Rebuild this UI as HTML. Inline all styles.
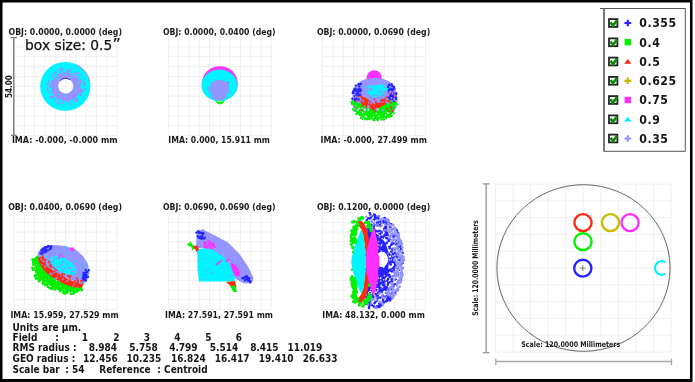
<!DOCTYPE html>
<html><head><meta charset="utf-8"><title>Spot Diagram</title><style>html,body{margin:0;padding:0;background:#fff;width:695px;height:382px;overflow:hidden}svg{display:block}</style></head><body>
<svg width="695" height="382" viewBox="0 0 695 382">
<rect width="695" height="382" fill="#fff"/>
<path d="M14.0 37.0V135.5M14.0 37.0H117.0M24.3 37.0V135.5M14.0 46.9H117.0M34.6 37.0V135.5M14.0 56.7H117.0M44.9 37.0V135.5M14.0 66.5H117.0M55.2 37.0V135.5M14.0 76.4H117.0M65.5 37.0V135.5M14.0 86.2H117.0M75.8 37.0V135.5M14.0 96.1H117.0M86.1 37.0V135.5M14.0 106.0H117.0M96.4 37.0V135.5M14.0 115.8H117.0M106.7 37.0V135.5M14.0 125.7H117.0M117.0 37.0V135.5M14.0 135.5H117.0" stroke="#f0f0f0" stroke-width="1" fill="none"/>
<path d="M168.3 37.0V135.5M168.3 37.0H271.3M178.6 37.0V135.5M168.3 46.9H271.3M188.9 37.0V135.5M168.3 56.7H271.3M199.2 37.0V135.5M168.3 66.5H271.3M209.5 37.0V135.5M168.3 76.4H271.3M219.8 37.0V135.5M168.3 86.2H271.3M230.1 37.0V135.5M168.3 96.1H271.3M240.4 37.0V135.5M168.3 106.0H271.3M250.7 37.0V135.5M168.3 115.8H271.3M261.0 37.0V135.5M168.3 125.7H271.3M271.3 37.0V135.5M168.3 135.5H271.3" stroke="#f0f0f0" stroke-width="1" fill="none"/>
<path d="M322.6 37.0V135.5M322.6 37.0H425.6M332.9 37.0V135.5M322.6 46.9H425.6M343.2 37.0V135.5M322.6 56.7H425.6M353.5 37.0V135.5M322.6 66.5H425.6M363.8 37.0V135.5M322.6 76.4H425.6M374.1 37.0V135.5M322.6 86.2H425.6M384.4 37.0V135.5M322.6 96.1H425.6M394.7 37.0V135.5M322.6 106.0H425.6M405.0 37.0V135.5M322.6 115.8H425.6M415.3 37.0V135.5M322.6 125.7H425.6M425.6 37.0V135.5M322.6 135.5H425.6" stroke="#f0f0f0" stroke-width="1" fill="none"/>
<path d="M14.0 212.7V309.4M14.0 212.7H117.0M24.3 212.7V309.4M14.0 222.4H117.0M34.6 212.7V309.4M14.0 232.0H117.0M44.9 212.7V309.4M14.0 241.7H117.0M55.2 212.7V309.4M14.0 251.4H117.0M65.5 212.7V309.4M14.0 261.0H117.0M75.8 212.7V309.4M14.0 270.7H117.0M86.1 212.7V309.4M14.0 280.4H117.0M96.4 212.7V309.4M14.0 290.1H117.0M106.7 212.7V309.4M14.0 299.7H117.0M117.0 212.7V309.4M14.0 309.4H117.0" stroke="#f0f0f0" stroke-width="1" fill="none"/>
<path d="M168.3 212.7V309.4M168.3 212.7H271.3M178.6 212.7V309.4M168.3 222.4H271.3M188.9 212.7V309.4M168.3 232.0H271.3M199.2 212.7V309.4M168.3 241.7H271.3M209.5 212.7V309.4M168.3 251.4H271.3M219.8 212.7V309.4M168.3 261.0H271.3M230.1 212.7V309.4M168.3 270.7H271.3M240.4 212.7V309.4M168.3 280.4H271.3M250.7 212.7V309.4M168.3 290.1H271.3M261.0 212.7V309.4M168.3 299.7H271.3M271.3 212.7V309.4M168.3 309.4H271.3" stroke="#f0f0f0" stroke-width="1" fill="none"/>
<path d="M322.6 212.7V309.4M322.6 212.7H425.6M332.9 212.7V309.4M322.6 222.4H425.6M343.2 212.7V309.4M322.6 232.0H425.6M353.5 212.7V309.4M322.6 241.7H425.6M363.8 212.7V309.4M322.6 251.4H425.6M374.1 212.7V309.4M322.6 261.0H425.6M384.4 212.7V309.4M322.6 270.7H425.6M394.7 212.7V309.4M322.6 280.4H425.6M405.0 212.7V309.4M322.6 290.1H425.6M415.3 212.7V309.4M322.6 299.7H425.6M425.6 212.7V309.4M322.6 309.4H425.6" stroke="#f0f0f0" stroke-width="1" fill="none"/>
<path d="M495.4 184.0V352.0M495.4 184.0H671.0M513.0 184.0V352.0M495.4 200.8H671.0M530.5 184.0V352.0M495.4 217.6H671.0M548.1 184.0V352.0M495.4 234.4H671.0M565.6 184.0V352.0M495.4 251.2H671.0M583.2 184.0V352.0M495.4 268.0H671.0M600.8 184.0V352.0M495.4 284.8H671.0M618.3 184.0V352.0M495.4 301.6H671.0M635.9 184.0V352.0M495.4 318.4H671.0M653.4 184.0V352.0M495.4 335.2H671.0M671.0 184.0V352.0M495.4 352.0H671.0" stroke="#f0f0f0" stroke-width="1" fill="none"/>
<text x="8.5" y="35.3" font-family='"DejaVu Sans", sans-serif' font-size="8.4" font-weight="bold" text-anchor="start" font-stretch="condensed" textLength="113.5" lengthAdjust="spacingAndGlyphs" fill="#1a1a1a">OBJ: 0.0000, 0.0000 (deg)</text>
<text x="11.9" y="143.4" font-family='"DejaVu Sans", sans-serif' font-size="8.4" font-weight="bold" text-anchor="start" font-stretch="condensed" textLength="105.7" lengthAdjust="spacingAndGlyphs" fill="#1a1a1a">IMA: -0.000, -0.000 mm</text>
<text x="163" y="35.3" font-family='"DejaVu Sans", sans-serif' font-size="8.4" font-weight="bold" text-anchor="start" font-stretch="condensed" textLength="112.6" lengthAdjust="spacingAndGlyphs" fill="#1a1a1a">OBJ: 0.0000, 0.0400 (deg)</text>
<text x="168.3" y="143.4" font-family='"DejaVu Sans", sans-serif' font-size="8.4" font-weight="bold" text-anchor="start" font-stretch="condensed" textLength="101.5" lengthAdjust="spacingAndGlyphs" fill="#1a1a1a">IMA: 0.000, 15.911 mm</text>
<text x="316.9" y="35.3" font-family='"DejaVu Sans", sans-serif' font-size="8.4" font-weight="bold" text-anchor="start" font-stretch="condensed" textLength="113.3" lengthAdjust="spacingAndGlyphs" fill="#1a1a1a">OBJ: 0.0000, 0.0690 (deg)</text>
<text x="320.5" y="143.4" font-family='"DejaVu Sans", sans-serif' font-size="8.4" font-weight="bold" text-anchor="start" font-stretch="condensed" textLength="106.5" lengthAdjust="spacingAndGlyphs" fill="#1a1a1a">IMA: -0.000, 27.499 mm</text>
<text x="8.2" y="210.0" font-family='"DejaVu Sans", sans-serif' font-size="8.4" font-weight="bold" text-anchor="start" font-stretch="condensed" textLength="113.8" lengthAdjust="spacingAndGlyphs" fill="#1a1a1a">OBJ: 0.0400, 0.0690 (deg)</text>
<text x="10.4" y="318.0" font-family='"DejaVu Sans", sans-serif' font-size="8.4" font-weight="bold" text-anchor="start" font-stretch="condensed" textLength="108.3" lengthAdjust="spacingAndGlyphs" fill="#1a1a1a">IMA: 15.959, 27.529 mm</text>
<text x="163" y="210.0" font-family='"DejaVu Sans", sans-serif' font-size="8.4" font-weight="bold" text-anchor="start" font-stretch="condensed" textLength="112.6" lengthAdjust="spacingAndGlyphs" fill="#1a1a1a">OBJ: 0.0690, 0.0690 (deg)</text>
<text x="165.1" y="318.0" font-family='"DejaVu Sans", sans-serif' font-size="8.4" font-weight="bold" text-anchor="start" font-stretch="condensed" textLength="107.9" lengthAdjust="spacingAndGlyphs" fill="#1a1a1a">IMA: 27.591, 27.591 mm</text>
<text x="316.9" y="210.0" font-family='"DejaVu Sans", sans-serif' font-size="8.4" font-weight="bold" text-anchor="start" font-stretch="condensed" textLength="113.3" lengthAdjust="spacingAndGlyphs" fill="#1a1a1a">OBJ: 0.1200, 0.0000 (deg)</text>
<text x="322.3" y="318.0" font-family='"DejaVu Sans", sans-serif' font-size="8.4" font-weight="bold" text-anchor="start" font-stretch="condensed" textLength="102.5" lengthAdjust="spacingAndGlyphs" fill="#1a1a1a">IMA: 48.132, 0.000 mm</text>
<path d="M13.8 37.6V135.4M10.6 37.6H17M11 135.4H16.6" stroke="#7a7a7a" stroke-width="1.4" fill="none"/>
<text x="12.2" y="86.5" font-family='"DejaVu Sans", sans-serif' font-size="8.3" font-weight="bold" text-anchor="middle" font-stretch="condensed" textLength="22.8" lengthAdjust="spacingAndGlyphs" fill="#1a1a1a" transform="rotate(-90 12.2 86.5)">54.00</text>
<text x="25.1" y="49.6" font-family='"DejaVu Sans", sans-serif' font-size="14.8" font-weight="normal" text-anchor="start" textLength="87.2" lengthAdjust="spacingAndGlyphs" fill="#111" stroke="#111" stroke-width="0.25">box size: 0.5</text>
<text x="112.4" y="50.4" font-family='"DejaVu Sans", sans-serif' font-size="16" font-weight="normal" text-anchor="start" fill="#111" stroke="#111" stroke-width="0.2">”</text>
<ellipse cx="65.3" cy="86.4" rx="25.1" ry="24.4" fill="#00f4ff"/>
<path d="M76 64.5 A25.1 24.4 0 0 1 89.8 81" stroke="#ff30ff" stroke-width="0.9" fill="none" opacity="0.7"/>
<ellipse cx="66" cy="86.8" rx="14.6" ry="14.4" fill="#9494ff"/>
<path d="M84.7 85.0h0M52.1 87.0h0M71.7 99.1h0M52.4 75.4h0M63.4 101.2h0M81.0 95.4h0M57.9 74.9h0M81.2 81.6h0M84.1 85.2h0M78.3 76.6h0M52.4 96.5h0M49.8 92.7h0M49.1 83.1h0M53.4 76.6h0M57.4 103.0h0M53.3 82.0h0M81.6 92.6h0M53.4 76.1h0M78.0 79.1h0M48.0 90.1h0M69.3 102.3h0M55.0 73.2h0M82.8 91.0h0M62.5 69.5h0M54.5 95.3h0M55.3 100.4h0M51.7 96.0h0M68.6 101.7h0M51.8 80.9h0M69.2 70.7h0M59.9 103.3h0M47.3 88.5h0M76.4 95.3h0M82.0 89.6h0M63.4 101.0h0M71.0 104.6h0M63.4 103.3h0M52.7 83.5h0M82.7 81.5h0M50.0 86.3h0M56.2 72.3h0M57.9 101.1h0M57.6 99.0h0M80.5 75.2h0M74.1 73.6h0M64.9 72.7h0M75.4 72.7h0M49.7 84.5h0M71.5 104.1h0M72.7 73.8h0M75.8 100.2h0M81.7 80.0h0M47.6 84.0h0M58.7 98.9h0M81.0 94.6h0M81.1 89.1h0M69.2 73.6h0M61.6 99.4h0M49.6 83.6h0M52.4 91.6h0M52.5 74.8h0M49.4 87.0h0M55.0 73.5h0M67.3 71.9h0M53.0 92.1h0M81.5 91.3h0M76.6 99.9h0M54.5 96.2h0M80.6 83.1h0M69.0 71.3h0M74.8 101.3h0M52.0 84.5h0M75.0 102.0h0M76.8 98.5h0M79.8 82.4h0M74.6 98.0h0M74.9 97.8h0M60.5 69.2h0M51.0 85.3h0M51.4 86.3h0M50.9 97.4h0M61.2 103.6h0M70.6 69.9h0M67.2 70.3h0M76.3 75.3h0M78.5 91.9h0M77.1 73.2h0M71.4 69.4h0M53.3 79.8h0M76.8 101.1h0M79.6 91.8h0M77.8 74.2h0M79.6 80.9h0M53.4 93.5h0M56.4 71.1h0M60.1 70.0h0M84.2 83.8h0M79.3 78.1h0M52.6 89.2h0M80.8 89.2h0M51.8 97.6h0M50.3 97.1h0M53.7 97.9h0M84.3 82.7h0M80.4 93.7h0M79.3 83.1h0M62.5 71.3h0M60.5 72.2h0M49.1 92.9h0M78.1 72.7h0" stroke="#9494ff" stroke-width="1.8" stroke-linecap="round"/>
<path d="M70.2 74.6h0M65.2 74.5h0M72.9 75.2h0M60.3 99.3h0M75.4 91.1h0M58.2 76.2h0M55.7 88.0h0M78.7 82.9h0M57.7 78.4h0M64.6 95.8h0M59.8 94.5h0M71.1 77.5h0M57.1 79.5h0M76.2 79.2h0" stroke="#00f4ff" stroke-width="1.4" stroke-linecap="round"/>
<path d="M85.6 89.2h0M75.8 79.3h0M73.8 95.5h0M51.9 82.3h0M80.8 90.5h0M61.9 68.1h0M84.5 83.4h0M77.7 100.3h0M48.7 81.2h0M66.4 98.9h0" stroke="#ff30ff" stroke-width="1.2" stroke-linecap="round"/>
<ellipse cx="65.7" cy="86" rx="7.6" ry="7.5" fill="#fff"/>
<clipPath id="h1"><ellipse cx="65.7" cy="86" rx="7.6" ry="7.5"/></clipPath>
<g clip-path="url(#h1)"><path d="M14.0 37.0V135.5M14.0 37.0H117.0M24.3 37.0V135.5M14.0 46.9H117.0M34.6 37.0V135.5M14.0 56.7H117.0M44.9 37.0V135.5M14.0 66.5H117.0M55.2 37.0V135.5M14.0 76.4H117.0M65.5 37.0V135.5M14.0 86.2H117.0M75.8 37.0V135.5M14.0 96.1H117.0M86.1 37.0V135.5M14.0 106.0H117.0M96.4 37.0V135.5M14.0 115.8H117.0M106.7 37.0V135.5M14.0 125.7H117.0M117.0 37.0V135.5M14.0 135.5H117.0" stroke="#f0f0f0" stroke-width="1" fill="none"/></g>
<path d="M60.5 80.5 A7.6 7.5 0 0 1 70 79.8" stroke="#2a2ad8" stroke-width="1" fill="none"/>
<ellipse cx="219.8" cy="83.6" rx="18" ry="17.3" fill="#ff30ff"/>
<ellipse cx="219.5" cy="85.4" rx="18" ry="15.8" fill="#00f4ff"/>
<path d="M211 84 Q213 80 219 80.5 Q226 80 228.5 85 Q229 92 226 96 Q224 100.5 219 100.5 Q213 100 212 95 Q209.5 90 211 84Z" fill="#9494ff"/>
<path d="M229.8 93.1h0M223.8 81.5h0M229.5 92.8h0M211.0 89.1h0M209.3 86.8h0M222.1 80.9h0M227.6 84.5h0M208.7 88.5h0M211.7 96.9h0M208.7 91.1h0M212.3 84.4h0M219.2 81.8h0M219.2 80.8h0M211.1 93.7h0M226.8 84.8h0M211.7 84.6h0M224.9 98.1h0M211.9 84.4h0M220.0 81.0h0M228.5 90.5h0M223.2 82.6h0M212.9 98.4h0M215.9 82.1h0M227.9 96.6h0M211.9 83.1h0M211.5 85.7h0M210.5 91.4h0M226.5 83.5h0M215.8 80.3h0M228.0 96.3h0" stroke="#9494ff" stroke-width="1.8" stroke-linecap="round"/>
<path d="M214.5 100.2 Q220 103.5 225.5 100.2 Q223 104.2 220 104.2 Q217 104.2 214.5 100.2Z" fill="#00f000"/>
<circle cx="228" cy="82.5" r="0.9" fill="#ff30ff"/>
<ellipse cx="374.2" cy="78.2" rx="7.7" ry="8" fill="#ff30ff"/>
<ellipse cx="376" cy="80" rx="4" ry="2" fill="#00f4ff"/>
<clipPath id="c3"><polygon points="396.8,98.8 396.7,101.7 396.5,103.9 396.2,105.8 395.7,107.5 395.1,109.1 394.4,110.6 393.5,111.9 392.5,113.2 391.4,114.3 390.2,115.4 388.8,116.3 387.4,117.1 385.7,117.7 384.0,118.3 382.1,118.7 380.1,119.1 377.8,119.2 374.6,119.3 371.4,119.2 369.1,119.1 367.1,118.7 365.2,118.3 363.5,117.7 361.8,117.1 360.4,116.3 359.0,115.4 357.8,114.3 356.7,113.2 355.7,111.9 354.8,110.6 354.1,109.1 353.5,107.5 353.0,105.8 352.7,103.9 352.5,101.7 352.4,98.8 352.5,95.9 352.7,93.7 353.0,91.8 353.5,90.1 354.1,88.5 354.8,87.0 355.7,85.7 356.7,84.4 357.8,83.3 359.0,82.2 360.4,81.3 361.8,80.5 363.5,79.9 365.2,79.3 367.1,78.9 369.1,78.5 371.4,78.4 374.6,78.3 377.8,78.4 380.1,78.5 382.1,78.9 384.0,79.3 385.7,79.9 387.4,80.5 388.8,81.3 390.2,82.2 391.4,83.3 392.5,84.4 393.5,85.7 394.4,87.0 395.1,88.5 395.7,90.1 396.2,91.8 396.5,93.7 396.7,95.9"/></clipPath>
<g clip-path="url(#c3)">
<rect x="350" y="76" width="50" height="45" fill="#9494ff"/>
<path d="M350 100 L360 103 L374 108 L388 102 L400 99 V121 H350Z" fill="#00f000"/>
<path d="M357 92 L366 98 L374 104 L384 98 L393 91 L395 97 L385 104.5 L374 110.5 L363 104.5 L356 98Z" fill="#ff2a10"/>
<path d="M364 87 L370 85 L374 86 L378 84 L384 85 L389 88 L385 93 L379 97 L375 98 L371 96 L366 92Z" fill="#00f4ff"/>
</g>
<path d="M366.8 88.9h0M367.0 95.9h0M370.1 86.3h0M366.4 89.6h0M377.0 84.4h0M384.5 86.7h0M385.4 94.0h0M358.8 85.7h0M364.9 94.8h0M370.6 89.0h0M391.8 86.1h0M365.4 88.2h0M353.1 93.3h0M378.0 96.6h0M361.9 94.4h0M391.9 86.2h0M371.7 89.1h0M354.8 88.9h0M367.1 90.9h0M364.9 84.9h0M370.5 90.6h0M359.7 94.0h0M367.7 89.6h0M358.9 92.5h0M384.3 92.0h0M370.0 88.6h0M354.9 89.3h0M354.5 90.9h0M379.0 90.4h0M367.0 86.6h0" stroke="#9494ff" stroke-width="2.0" stroke-linecap="round"/>
<path d="M393.7 93.3h0M359.1 91.4h0M396.2 97.4h0M393.1 89.6h0M356.7 92.1h0M359.4 86.6h0M357.8 94.4h0M355.0 96.1h0M355.5 91.0h0M358.0 99.3h0M389.0 89.8h0M391.3 98.6h0M390.7 98.0h0M356.1 89.5h0M389.2 98.8h0M389.2 84.9h0M358.6 84.1h0M393.7 88.2h0M359.9 99.3h0M389.5 89.9h0M352.8 93.0h0M388.8 96.7h0M390.6 97.4h0M394.4 88.4h0M354.6 88.7h0M360.0 99.6h0M360.8 90.2h0M359.0 89.1h0M392.0 94.6h0M355.6 98.7h0M391.2 95.0h0M395.9 98.6h0M389.1 92.2h0M392.6 96.2h0M392.4 85.9h0M353.6 93.1h0M388.6 91.8h0M391.9 97.4h0M389.0 85.0h0M392.4 98.7h0M355.8 85.6h0M360.1 94.6h0M393.0 96.6h0M359.7 95.4h0M358.9 84.6h0M396.1 94.2h0M357.2 94.6h0M393.9 87.0h0M390.2 99.0h0M354.9 99.9h0M354.3 89.3h0M394.0 101.0h0M390.6 95.0h0M353.3 91.2h0M360.3 89.4h0M357.0 89.9h0M358.2 95.0h0M355.9 91.4h0M396.3 99.9h0M355.5 97.8h0M356.1 93.4h0M388.1 86.9h0M360.7 91.0h0M391.7 84.1h0M391.7 85.1h0M357.5 98.4h0M357.7 92.6h0M355.5 100.4h0M396.4 93.4h0M352.4 98.7h0M353.0 92.6h0M360.9 84.0h0M389.0 90.5h0M392.1 90.0h0M390.7 88.6h0" stroke="#2424ff" stroke-width="2.4" stroke-linecap="round"/>
<path d="M365.6 108.0h0M388.6 104.1h0M377.1 110.4h0M395.8 106.6h0M386.1 99.2h0M394.9 91.6h0M388.3 99.7h0M386.8 98.3h0M371.9 99.6h0M355.8 97.0h0M386.0 91.6h0M355.7 108.3h0M382.6 102.1h0M355.5 92.6h0M365.2 111.0h0M377.4 110.3h0M360.3 99.1h0M376.3 108.5h0M356.0 109.2h0M371.2 98.3h0M383.0 110.4h0M374.2 105.2h0M369.0 107.1h0M355.2 106.3h0M358.2 102.9h0M359.9 97.6h0M358.0 97.7h0M379.0 101.4h0M369.0 102.6h0M391.3 97.9h0M378.6 100.6h0M384.2 95.1h0M362.8 106.1h0M378.2 95.7h0M368.5 105.8h0M371.2 103.6h0M394.6 100.0h0M373.9 95.1h0M386.9 92.3h0M365.0 108.6h0M377.8 102.1h0M366.3 93.3h0M389.5 92.1h0M388.4 94.8h0M359.8 101.8h0M379.9 92.7h0M387.5 102.8h0M394.1 110.3h0M383.8 98.0h0M364.3 108.9h0M385.6 95.8h0M376.3 95.6h0M364.4 95.6h0M356.4 100.7h0M363.4 96.3h0M363.6 101.2h0M392.8 93.5h0M392.1 108.8h0M379.9 102.0h0M386.0 101.8h0M382.3 110.2h0M388.0 95.7h0M367.8 107.3h0M361.4 100.0h0M368.2 106.0h0M396.2 101.1h0M377.7 97.7h0M361.4 110.9h0M355.4 110.7h0M382.2 91.6h0" stroke="#9494ff" stroke-width="2.0" stroke-linecap="round"/>
<path d="M391.9 108.6h0M375.8 101.7h0M374.5 99.2h0M384.5 102.7h0M373.9 104.9h0M356.6 100.8h0M366.4 107.2h0M392.1 111.0h0M378.9 107.0h0M380.0 105.8h0M375.4 111.4h0M392.6 111.3h0M390.7 107.0h0M375.5 105.3h0M387.1 108.9h0M388.9 111.6h0M390.8 102.5h0M366.4 101.5h0M362.9 105.4h0M375.8 101.4h0M383.1 103.3h0M361.5 110.1h0M362.4 103.7h0M388.4 101.3h0M361.7 106.5h0" stroke="#ff2a10" stroke-width="1.8" stroke-linecap="round"/>
<path d="M362.8 112.8h0M359.0 108.5h0M364.8 109.9h0M385.6 115.1h0M388.7 113.1h0M362.0 108.3h0M368.2 110.3h0M366.6 116.9h0M368.6 109.3h0M379.1 116.1h0M373.3 117.3h0M376.5 113.5h0M387.4 112.9h0M365.2 116.4h0M357.9 110.0h0M377.9 109.4h0" stroke="#fff" stroke-width="1.6" stroke-linecap="round"/>
<path d="M352.0 104.0h0M397.5 104.4h0M390.6 116.4h0M362.5 118.8h0M377.2 119.8h0M390.9 116.5h0M377.9 119.7h0M383.6 119.7h0M366.2 119.3h0M381.4 119.6h0M373.3 120.0h0M360.8 117.9h0M393.8 113.3h0M377.9 119.9h0M377.6 119.6h0M351.5 101.8h0M373.2 120.0h0M374.3 120.3h0M352.9 109.3h0M351.6 102.4h0M384.3 119.3h0M391.8 115.6h0M386.3 117.9h0M369.3 119.2h0M364.8 119.1h0M356.3 114.2h0M367.6 119.2h0M354.4 110.8h0M388.7 117.0h0M352.3 101.7h0" stroke="#00f000" stroke-width="2.2" stroke-linecap="round"/>
<polygon points="34.5,258 38,255 41,262 48,269 58,276 70,283 83,285 82,289 74,292 64,291.5 54,288 45,283 38,277 34,269" fill="#00f000"/>
<path d="M77.0 285.3h0M36.6 264.4h0M40.2 261.7h0M72.3 285.9h0M39.3 260.4h0M39.6 267.7h0M45.5 279.3h0M70.4 284.3h0M56.7 280.7h0M35.4 269.1h0M37.1 270.6h0M82.0 286.7h0M34.6 266.4h0M40.1 277.0h0M45.0 282.2h0M42.8 266.3h0M48.7 271.6h0M51.5 272.4h0M75.1 289.9h0M64.3 291.4h0M48.7 271.2h0M35.6 265.1h0M48.2 270.3h0M45.8 282.5h0M54.4 275.3h0M53.8 276.0h0M74.2 286.6h0M60.3 285.9h0M64.1 289.4h0M41.6 276.0h0" stroke="#fff" stroke-width="1.2" stroke-linecap="round" opacity="0.7"/>
<path d="M58.4 282.7h0M71.1 288.3h0M39.5 271.4h0M47.2 280.2h0M38.7 267.0h0M73.9 289.0h0M49.9 278.9h0M71.1 286.6h0M58.4 288.9h0M43.7 271.6h0M54.6 281.1h0M68.4 289.5h0M75.0 291.4h0M39.5 277.3h0M55.0 285.3h0M43.2 274.7h0M35.9 259.1h0M41.2 276.1h0M48.7 277.7h0M49.6 279.9h0M79.2 289.9h0M36.9 257.9h0M60.4 290.1h0M50.1 284.1h0M51.2 284.1h0M68.7 286.5h0M36.5 265.5h0M56.0 285.5h0M70.2 291.0h0M43.4 272.8h0M47.6 275.6h0M77.2 288.4h0M40.1 265.9h0M40.5 273.2h0M55.4 287.8h0M78.9 290.0h0M47.1 278.1h0M40.6 276.2h0M36.4 272.0h0M37.2 270.3h0" stroke="#00f000" stroke-width="2.6" stroke-linecap="round"/>
<path d="M33.6 260.6h0M54.7 288.3h0M46.9 284.7h0M64.2 292.2h0M32.5 267.8h0M54.9 288.4h0M42.8 283.5h0M55.3 289.4h0M32.6 259.6h0M35.6 275.3h0M39.1 281.2h0M70.9 293.8h0M64.0 293.1h0M50.1 288.3h0M77.3 291.3h0M39.1 280.7h0M33.8 259.6h0M52.4 287.6h0M40.5 279.6h0M33.3 264.6h0M34.0 262.4h0M73.4 293.6h0M67.3 292.0h0M40.8 260.5h0M33.1 269.8h0M63.3 292.5h0M65.1 293.3h0M34.9 276.1h0M45.2 284.1h0M60.2 291.2h0M81.8 290.1h0M36.1 278.5h0M76.0 291.7h0M66.5 293.0h0M38.0 278.5h0M51.1 288.4h0M35.7 276.1h0M43.3 282.0h0M33.2 262.2h0M52.7 288.7h0M45.5 285.2h0M45.1 284.3h0M48.2 287.1h0M74.0 292.7h0M35.5 275.1h0" stroke="#00f000" stroke-width="2.8" stroke-linecap="round"/>
<polygon points="39,255 44,262 52,268 60,273.5 68,279 76,282.5 83,284 82,287.5 74,287.5 64,284 54,278.5 46,272.5 41,266.5 38,259" fill="#ff2a10"/>
<path d="M52.3 269.1h0M51.6 273.6h0M45.0 266.4h0M40.3 258.1h0M52.9 270.6h0M42.7 261.1h0M73.3 281.5h0M50.1 268.0h0M62.0 279.9h0M69.3 283.9h0M51.8 274.7h0M44.0 262.0h0M63.2 278.2h0M55.7 272.2h0M60.6 276.3h0M57.0 277.8h0M74.3 284.1h0M58.7 280.6h0M45.6 267.3h0M64.2 276.7h0M55.0 279.0h0M49.7 273.8h0M67.7 280.7h0M72.9 286.2h0M66.2 281.2h0M57.7 274.2h0M53.8 272.5h0M41.8 264.6h0M50.8 273.1h0M62.6 279.6h0M77.9 286.9h0M55.0 278.4h0M56.2 278.8h0M80.1 283.6h0M47.6 265.4h0" stroke="#9494ff" stroke-width="1.6" stroke-linecap="round"/>
<polygon points="37.5,253 41,248.5 46,246 55,245 65,246 75,249 83,256 88,264 89.5,273 87,281 83,284 76,282 68,278.5 58,273 50,268 44,263 39,258" fill="#9494ff"/>
<path d="M41.2 262.4h0M70.5 284.7h0M55.9 273.8h0M62.5 276.7h0M78.4 286.4h0M62.0 281.2h0M71.3 282.8h0M41.7 262.6h0M76.6 282.9h0M65.6 280.1h0M48.3 268.9h0M68.8 284.3h0M79.2 285.8h0M82.7 284.0h0M46.4 267.1h0M60.8 279.3h0M72.3 282.0h0M51.6 272.1h0M77.3 283.7h0M39.4 258.6h0" stroke="#ff2a10" stroke-width="2.0" stroke-linecap="round"/>
<path d="M54.2 267.5h0M44.9 260.8h0M42.4 256.3h0M67.8 275.6h0M70.1 278.8h0M42.7 259.8h0M64.1 274.6h0M44.8 263.0h0M77.5 280.5h0M44.2 262.9h0M68.3 275.9h0M64.3 273.6h0M41.6 257.4h0M63.2 272.5h0M44.1 263.0h0M59.1 268.0h0M42.8 257.4h0M49.6 265.8h0M78.1 282.0h0M56.0 270.1h0M68.8 275.9h0M41.0 257.6h0M58.7 269.9h0M78.1 280.2h0M43.6 258.6h0M45.3 260.1h0M41.4 254.6h0M49.1 261.0h0M49.3 262.8h0M59.9 269.1h0M81.6 281.4h0M81.1 280.7h0M62.1 274.2h0M70.7 276.3h0M82.7 279.9h0M74.9 281.0h0M43.4 258.6h0M51.2 267.0h0M50.9 264.9h0M60.1 270.3h0M68.8 276.7h0M43.6 258.4h0M76.6 278.3h0M61.1 269.8h0M55.7 267.9h0" stroke="#ff2a10" stroke-width="2.0" stroke-linecap="round"/>
<ellipse cx="63.5" cy="265.5" rx="14.5" ry="7" transform="rotate(30 63.5 265.5)" fill="#00f4ff"/>
<path d="M57.2 266.9h0M69.8 268.0h0M60.7 264.5h0M52.6 264.8h0M64.3 261.6h0M65.3 268.6h0M73.4 270.9h0M69.6 267.5h0M72.0 267.6h0M62.4 269.5h0M72.2 271.5h0M68.6 268.7h0M62.6 265.1h0M67.3 262.8h0M74.5 267.6h0M61.1 266.8h0M71.2 274.2h0M75.2 271.3h0M62.5 272.4h0M58.3 266.1h0M54.8 258.0h0M53.0 260.5h0M62.5 261.9h0M57.3 259.0h0M67.4 265.2h0" stroke="#9494ff" stroke-width="1.8" stroke-linecap="round"/>
<path d="M84.7 270.4h0M80.6 275.6h0M46.0 256.9h0M87.2 267.5h0M43.5 251.8h0M47.5 265.7h0M49.5 259.8h0M41.0 255.9h0M48.5 266.7h0M47.3 256.1h0M52.4 250.9h0M57.0 254.6h0M74.7 261.0h0M66.5 247.1h0M81.2 265.7h0M84.5 282.1h0M77.8 262.2h0M84.6 262.8h0M74.2 267.0h0M66.2 252.8h0" stroke="#00f4ff" stroke-width="1.6" stroke-linecap="round"/>
<path d="M51.5 246.4h0M51.1 246.1h0M42.0 253.5h0M43.3 252.4h0M49.4 246.7h0M46.5 250.3h0M45.8 251.9h0M48.0 245.9h0M44.8 251.5h0M41.5 251.1h0M49.7 246.7h0M46.6 250.4h0M50.6 247.6h0M47.8 250.5h0M44.9 251.1h0M43.9 248.5h0M45.1 250.0h0M41.8 251.2h0M42.7 248.6h0M44.9 249.4h0M42.0 250.5h0M47.7 250.5h0M50.1 248.8h0M45.8 247.9h0M49.4 246.5h0M51.2 246.3h0M44.3 251.0h0M50.1 247.0h0M44.7 247.4h0M46.3 247.0h0M45.9 247.1h0M45.2 251.9h0M43.2 253.0h0M49.6 249.5h0M47.1 247.1h0M51.1 248.4h0M40.4 253.4h0M41.4 250.2h0M45.9 247.4h0M44.4 250.4h0" stroke="#2424ff" stroke-width="2.2" stroke-linecap="round"/>
<path d="M84.1 274.4h0M87.3 271.9h0M85.5 275.4h0M85.1 279.7h0M88.9 270.2h0M82.8 278.0h0M84.6 274.8h0M84.0 280.1h0M88.1 277.0h0M85.8 280.6h0M86.3 274.7h0M83.7 272.9h0M86.8 277.2h0M86.2 276.4h0M85.4 272.4h0M85.7 270.0h0M84.5 273.0h0M85.2 277.2h0M83.5 274.5h0M86.2 276.7h0M86.5 274.9h0M85.2 278.8h0M84.3 274.9h0M83.2 275.7h0M85.9 272.7h0M83.5 277.4h0M84.0 278.7h0M83.2 278.7h0" stroke="#2424ff" stroke-width="2.3" stroke-linecap="round"/>
<rect x="70.5" y="247.5" width="3.5" height="3.5" fill="#ff30ff"/>
<path d="M60.4 254.9h0M62.7 257.1h0M59.5 257.9h0M59.2 256.9h0" stroke="#ff30ff" stroke-width="1.8" stroke-linecap="round"/>
<polygon points="196.5,231.5 203,229.5 213,234.5 228,242.5 239.5,254 248,266.5 253.5,278 252,283 244,283.5 236,279 225,268 212,254 203,248 196,248 196.5,238" fill="#9494ff"/>
<path d="M228.5 262.1h0M210.4 236.8h0M205.8 240.5h0M234.5 257.2h0M206.4 249.8h0M223.0 255.3h0M229.9 267.7h0M210.9 243.1h0M207.5 245.9h0M235.6 270.6h0M211.3 237.0h0M227.5 247.1h0M202.6 244.3h0M234.5 257.1h0M219.3 261.6h0M206.6 237.1h0M202.8 229.6h0M202.0 247.4h0M198.4 239.7h0M222.9 253.3h0M224.5 266.6h0M238.2 272.4h0M213.8 248.0h0M229.4 254.0h0M222.9 260.7h0" stroke="#a8a8ff" stroke-width="1.8" stroke-linecap="round"/>
<path d="M200.7 238.2h0M196.3 232.6h0M201.4 233.0h0M201.6 238.0h0M203.3 233.3h0M199.5 232.3h0M202.0 238.5h0M198.2 231.1h0M202.7 234.3h0M198.7 232.8h0M199.1 233.1h0M202.2 236.3h0M199.0 237.7h0M200.0 236.8h0M201.3 237.5h0M205.0 237.6h0M203.8 238.5h0M197.7 236.2h0" stroke="#2424ff" stroke-width="2.4" stroke-linecap="round"/>
<path d="M246.6 279.2h0M250.5 281.5h0M244.6 277.1h0M250.2 282.2h0M244.7 277.2h0M248.4 278.8h0M249.3 278.3h0M242.3 278.1h0M244.9 280.3h0M246.8 278.3h0M246.8 277.0h0M248.7 278.1h0M246.5 276.0h0M243.3 278.4h0M250.4 281.5h0M249.6 280.9h0M247.9 280.4h0M249.0 280.4h0" stroke="#2424ff" stroke-width="2.4" stroke-linecap="round"/>
<polygon points="187.5,244 191,243 196,248 194,249" fill="#00f000"/>
<path d="M191.8 246.4h0M193.8 247.6h0M189.3 245.3h0M190.7 245.6h0M190.4 242.8h0M193.1 248.3h0M193.4 247.2h0M192.6 249.3h0M192.8 246.2h0M188.5 244.2h0" stroke="#00f000" stroke-width="2.0" stroke-linecap="round"/>
<polygon points="193,246 197.5,245.5 200,252 198,254" fill="#ff2a10"/>
<polygon points="197.2,251 200,248.5 211,249 218,253 224,257.6 229.3,264.2 233.2,272 235,280.5 233,281.5 199,281.5 197.5,270 197.5,260" fill="#00f4ff"/>
<polygon points="226,282 235,281 236.5,287.5 233,288" fill="#ff2a10"/>
<polygon points="230,286 235,285.5 237,292 233.5,292" fill="#00f000"/>
<polygon points="203.5,241.5 208.5,240 213.5,242.5 216,247.5 212,249 204,248" fill="#ff30ff"/>
<path d="M207.5 241.9h0M206.1 241.0h0M208.5 247.8h0M206.8 245.3h0M207.4 243.6h0M212.7 247.7h0M211.4 242.1h0M210.8 245.6h0" stroke="#9494ff" stroke-width="1.8" stroke-linecap="round"/>
<polygon points="231,263 236,265 240,272 239.5,276 235,276 232,270" fill="#ff30ff"/>
<path d="M216 265 L222 260 M226 262 L229 259" stroke="#ff30ff" stroke-width="1.6"/>
<path d="M211.7 273.3h0M222.4 264.7h0M206.4 279.4h0M199.1 260.4h0M212.0 252.1h0M211.3 273.2h0M223.9 268.2h0M207.7 268.2h0M231.2 276.3h0M206.1 270.6h0M228.3 275.4h0M203.8 258.5h0" stroke="#9494ff" stroke-width="1.4" stroke-linecap="round"/>
<polygon points="366,231.24 365.5,231.2 368.3,231.3 370.6,231.6 372.7,232.1 374.6,232.8 376.5,233.7 378.2,234.7 379.8,236.0 381.3,237.4 382.7,239.0 383.9,240.7 385.0,242.6 386.0,244.7 386.8,246.9 387.5,249.3 388.1,251.8 388.4,254.5 388.7,257.4 388.8,261.0 388.7,264.6 388.4,267.5 388.1,270.2 387.5,272.7 386.8,275.1 386.0,277.3 385.0,279.4 383.9,281.3 382.7,283.0 381.3,284.6 379.8,286.0 378.2,287.3 376.5,288.3 374.6,289.2 372.7,289.9 370.6,290.4 368.3,290.7 365.5,290.8 366,290.76" fill="#2424ff"/>
<path d="M372.3 293.8h0M394.2 266.9h0M387.9 284.7h0M384.2 229.0h0M385.8 267.2h0M374.3 234.4h0M368.2 277.4h0M398.5 237.2h0M373.8 254.2h0M377.4 286.7h0M375.9 237.0h0M382.2 296.9h0M371.6 216.2h0M392.8 276.4h0M372.7 239.2h0M395.3 293.8h0M392.2 242.8h0M388.3 273.2h0M385.5 223.4h0M385.5 253.3h0M393.2 259.6h0M375.7 230.9h0M396.0 268.1h0M396.8 230.3h0M383.8 222.6h0M372.9 245.9h0M377.0 306.3h0M370.2 262.3h0M369.7 299.6h0M370.1 296.6h0M378.6 246.8h0M369.9 273.6h0M368.9 277.8h0M387.3 238.5h0M392.0 281.9h0M368.6 302.3h0M371.2 254.1h0M370.4 286.1h0M398.3 257.1h0M391.9 298.1h0M383.0 289.9h0M388.8 289.6h0M373.5 269.7h0M379.9 240.7h0M366.0 255.3h0M374.6 248.3h0M372.8 263.5h0M380.6 280.5h0M371.2 217.3h0M391.7 271.3h0M373.7 225.9h0M383.8 279.3h0M384.5 261.0h0M369.2 305.8h0M375.6 249.9h0M380.7 256.1h0M399.6 259.8h0M370.7 232.7h0M368.5 300.4h0M378.1 245.8h0M383.3 247.3h0M395.7 279.5h0M389.9 231.6h0M386.3 237.9h0M370.1 275.9h0M391.8 288.1h0M371.8 269.2h0M370.4 253.7h0M380.5 246.6h0M382.3 262.5h0M370.4 263.7h0M369.0 281.1h0M367.4 259.4h0M366.1 289.2h0M384.2 257.3h0M380.2 259.0h0M372.9 256.8h0M380.0 224.9h0M389.6 254.6h0M371.0 264.5h0M375.0 267.9h0M378.8 282.8h0M379.4 286.9h0M379.5 288.1h0M396.1 253.6h0M385.2 219.6h0M377.8 237.2h0M397.9 289.5h0M391.2 287.3h0M383.2 275.0h0M386.9 298.7h0M385.9 301.3h0M381.5 236.4h0M372.4 254.0h0M378.4 222.0h0M378.5 306.3h0M397.2 253.1h0M375.4 260.7h0M379.3 272.9h0M377.2 273.2h0M396.7 239.0h0M374.9 267.7h0M388.9 299.1h0M398.5 257.2h0M385.8 289.8h0M389.0 223.1h0M381.3 222.6h0M392.8 289.0h0M393.3 286.3h0M374.0 282.6h0M368.0 225.5h0M396.7 256.6h0M383.1 251.2h0M372.2 289.5h0M386.8 287.4h0M385.2 234.6h0M376.3 222.8h0M394.8 261.1h0M380.6 246.5h0M374.9 238.8h0M375.9 262.1h0M382.8 258.0h0M399.4 246.1h0M390.3 262.1h0M373.7 231.8h0M377.6 295.8h0M368.5 281.3h0M381.7 233.3h0M374.5 224.2h0M378.6 216.5h0M385.5 267.1h0M371.1 281.0h0M386.5 293.1h0M383.6 245.7h0M391.5 251.7h0M384.2 235.7h0M372.0 221.3h0M374.2 219.6h0M370.2 293.1h0M379.8 247.8h0M373.8 281.1h0M373.7 306.3h0M366.9 303.7h0M382.4 255.3h0M386.0 234.8h0M402.7 262.9h0M387.8 298.2h0M392.4 294.8h0M370.7 240.9h0M374.5 262.2h0M376.5 300.7h0M374.4 249.9h0M382.2 242.8h0M394.4 260.3h0M397.8 246.2h0M382.1 304.7h0M388.0 298.1h0M375.2 297.8h0M378.1 293.1h0M381.1 305.4h0M401.1 249.0h0M366.5 272.9h0M388.7 240.6h0M402.6 252.9h0M387.2 233.5h0M395.2 264.5h0M371.8 305.0h0M377.1 224.7h0M394.9 253.0h0M398.2 253.6h0M388.2 282.9h0M370.5 259.0h0M372.1 290.5h0M379.6 246.6h0M369.4 238.3h0M380.5 237.5h0M374.4 239.2h0M386.2 275.9h0M366.9 292.9h0M396.3 235.5h0M368.3 218.3h0M390.3 269.6h0M392.3 255.9h0M384.0 257.4h0M376.7 260.4h0M382.6 272.2h0M374.6 303.1h0M366.7 292.3h0M370.1 239.8h0M383.0 302.0h0M371.3 261.9h0M397.6 259.8h0M398.1 236.0h0M379.0 265.9h0M390.4 282.2h0M372.9 233.6h0M378.6 292.3h0M377.8 281.8h0M388.9 270.6h0M372.7 296.1h0M374.5 223.6h0M400.4 263.3h0M384.5 230.1h0M400.6 250.0h0M385.2 262.2h0M369.7 213.0h0M389.8 246.8h0M392.7 268.5h0M375.7 269.2h0M392.6 236.7h0M384.6 218.0h0M392.9 254.2h0M374.7 282.0h0M397.9 232.8h0M366.3 269.4h0M398.1 271.6h0M394.5 270.4h0M369.2 303.6h0M373.8 261.3h0M395.0 284.0h0M383.7 280.1h0M381.4 268.6h0M393.7 267.8h0M367.3 235.4h0M380.3 297.6h0M390.7 238.1h0M388.7 240.7h0M401.2 250.1h0M371.2 289.8h0M373.2 296.2h0M388.9 275.4h0M367.2 238.9h0M370.8 217.3h0M385.8 226.6h0M373.5 291.1h0M390.6 228.9h0M383.0 300.0h0M368.9 248.9h0M375.7 233.3h0M372.0 284.3h0M378.9 281.8h0M380.6 288.0h0M375.9 285.0h0M387.5 223.6h0M397.3 232.5h0M368.0 264.9h0M389.4 275.2h0M377.6 231.5h0M381.9 231.9h0M384.6 286.4h0M380.5 233.6h0M386.5 230.0h0M395.1 292.4h0M375.4 216.0h0M389.7 263.3h0M389.5 247.2h0M387.6 272.5h0M399.9 240.6h0M371.9 255.4h0M368.0 242.2h0M386.4 296.5h0M401.3 243.9h0M373.2 280.8h0M395.6 251.7h0M398.8 275.5h0M375.4 295.0h0M376.5 296.0h0M369.8 230.5h0M387.9 234.9h0M372.7 288.9h0M369.4 299.5h0M382.0 282.0h0M389.9 294.9h0M373.4 245.0h0M377.3 298.2h0M386.7 222.2h0M378.3 276.6h0M398.7 256.5h0M383.3 282.4h0M373.1 244.9h0M375.2 217.4h0M375.7 294.2h0M395.9 251.3h0M370.6 262.3h0M377.4 274.0h0M400.3 247.1h0M379.1 293.7h0M400.3 280.3h0M379.4 303.6h0M372.8 290.6h0M390.8 296.8h0M369.4 300.3h0M375.9 298.6h0M396.7 232.0h0M386.5 223.3h0M391.1 225.2h0M379.5 233.5h0M397.3 260.1h0M380.6 257.7h0M368.0 264.8h0M374.7 214.8h0M370.3 259.0h0M383.1 237.5h0M377.7 260.5h0M375.8 307.6h0M379.5 256.6h0M375.3 258.6h0M378.4 218.3h0M369.2 253.0h0M396.5 248.2h0M393.1 236.5h0M384.6 281.5h0M368.0 268.5h0M368.8 230.7h0M396.4 272.3h0M368.8 298.0h0M370.5 235.2h0M396.6 241.8h0M397.8 271.0h0M376.2 290.1h0M369.7 255.2h0M368.7 255.9h0M377.3 263.9h0M385.4 252.6h0M366.3 297.2h0M390.8 264.5h0M384.7 289.0h0M401.6 262.6h0M378.7 276.3h0M400.0 282.2h0M390.7 227.4h0M395.2 270.9h0M394.9 256.9h0M367.5 236.5h0M389.7 226.6h0M379.0 251.9h0M371.7 239.1h0M384.0 302.3h0M381.6 291.9h0M366.0 281.8h0M394.7 236.1h0M366.5 241.9h0M379.1 277.5h0M369.0 227.6h0M389.8 248.2h0M379.4 251.9h0M379.6 290.4h0M402.6 268.0h0M393.4 295.4h0M370.3 257.9h0M367.1 286.6h0M382.9 273.1h0M382.3 244.9h0M390.1 300.3h0M369.1 265.0h0M384.5 249.7h0M373.7 256.1h0M370.7 278.4h0M377.8 298.2h0M375.7 232.1h0M373.5 283.7h0M386.6 274.8h0M380.3 264.6h0M370.5 298.2h0M383.0 259.1h0M370.1 262.4h0M369.0 246.4h0M369.1 231.2h0M391.4 271.0h0M396.6 245.2h0M391.4 244.7h0M373.1 279.1h0M397.9 235.8h0M368.0 262.2h0M386.4 272.1h0M396.4 244.4h0M398.3 282.2h0M375.8 234.2h0M384.1 296.8h0M401.0 264.2h0M387.2 260.5h0M394.3 262.6h0M388.5 296.5h0M370.3 262.2h0M390.7 238.7h0M396.7 274.9h0M371.6 224.9h0M379.9 255.4h0M388.1 220.0h0M369.1 255.2h0M376.7 275.6h0M374.5 215.5h0M373.5 263.5h0M382.9 295.3h0M374.5 276.1h0M385.7 231.8h0M381.4 236.9h0M396.3 236.7h0M377.8 274.9h0M371.0 228.3h0M379.4 277.3h0M398.9 270.0h0M377.5 267.3h0M370.5 214.9h0M375.3 248.7h0M374.5 254.9h0M386.8 232.5h0M390.8 289.9h0M396.6 245.7h0M377.8 225.7h0M393.3 259.4h0M370.1 285.9h0M383.3 270.7h0M383.2 298.7h0M377.8 260.2h0M397.5 248.3h0M383.4 220.9h0M384.8 227.5h0M382.4 246.2h0M373.5 247.2h0M380.2 275.1h0M384.2 284.4h0M367.6 300.1h0M377.4 284.7h0M385.1 244.0h0M390.3 258.5h0M398.9 280.9h0M381.1 270.2h0M383.0 285.2h0M371.9 266.1h0M387.3 300.7h0M378.8 250.7h0M393.8 271.5h0M385.7 271.2h0M375.2 220.0h0M383.4 264.0h0M395.2 250.7h0M379.4 306.9h0M400.2 245.1h0M368.1 290.6h0M381.7 280.6h0M375.4 276.8h0M375.1 277.9h0M366.5 281.8h0M374.2 249.7h0M369.0 307.9h0M398.5 267.7h0M387.0 257.0h0M391.8 292.7h0M371.5 246.7h0M386.1 226.8h0M370.3 275.4h0M378.7 244.7h0M371.2 285.9h0M380.7 277.1h0M372.6 279.5h0M386.5 222.0h0M371.1 235.9h0M381.7 265.0h0M373.8 264.1h0M386.2 252.2h0M392.1 261.9h0M368.9 255.0h0M369.7 218.6h0M390.5 261.4h0M386.9 242.8h0M400.9 257.4h0M376.0 274.8h0M394.2 259.6h0M374.8 219.4h0M391.3 224.4h0M399.8 257.0h0M394.9 238.1h0M395.5 240.9h0M395.4 265.6h0M396.6 239.3h0M381.1 277.3h0M368.4 239.8h0M373.9 228.6h0M388.3 253.1h0M389.9 276.8h0M383.7 297.4h0M383.0 257.0h0M376.2 285.4h0M376.1 242.6h0M371.3 300.7h0M374.8 252.3h0M366.8 234.4h0M368.1 280.9h0M374.5 273.6h0M366.5 286.3h0M378.3 259.4h0M366.2 229.2h0M368.3 245.4h0M376.0 217.9h0M368.5 229.5h0M368.3 224.6h0M399.5 253.5h0M369.5 297.6h0M372.9 233.4h0M367.7 294.7h0M383.9 269.0h0M386.5 296.3h0M387.3 280.7h0M374.7 297.3h0M379.2 305.7h0M377.7 223.0h0M389.0 247.2h0M376.4 243.2h0M403.3 259.9h0M394.5 272.4h0M375.8 301.6h0M367.9 283.5h0M372.0 297.7h0M385.5 262.6h0M377.0 266.5h0M387.4 298.3h0M392.6 257.6h0M374.5 247.8h0M366.9 220.0h0M398.0 258.0h0M392.2 229.4h0M379.5 230.8h0M379.8 239.5h0M381.3 279.5h0M390.6 293.2h0M372.9 234.6h0M370.3 237.0h0M392.8 285.3h0M384.0 265.6h0M391.7 279.4h0M383.2 247.3h0M386.9 269.1h0M371.5 257.0h0M386.1 287.1h0M377.4 306.9h0M394.9 273.2h0M386.1 228.1h0M379.6 242.0h0M385.1 218.3h0M366.3 241.0h0M379.7 239.9h0M385.4 273.8h0M401.0 279.9h0M369.0 301.2h0M378.3 274.6h0M390.1 299.4h0M392.4 249.3h0M370.2 302.3h0M380.9 290.4h0M393.6 243.5h0M386.3 250.4h0M398.3 242.4h0M383.6 288.5h0M370.5 289.7h0M388.2 278.8h0M393.2 235.4h0M401.6 273.0h0M380.3 221.6h0M374.2 214.5h0" stroke="#2424ff" stroke-width="2.7" stroke-linecap="round"/>
<path d="M393.4 234.1h0M392.1 239.1h0M397.1 249.1h0M401.4 254.2h0M393.3 293.5h0M388.1 223.4h0M402.9 258.5h0M396.7 271.7h0M400.7 256.6h0M388.3 293.7h0M396.3 249.3h0M395.3 291.0h0M397.3 241.8h0M395.6 237.8h0M401.4 261.0h0M391.5 226.0h0M396.1 246.4h0M392.5 298.0h0M392.7 276.8h0M394.4 227.7h0M400.8 241.2h0M396.8 275.1h0M401.6 270.6h0M398.7 255.7h0M400.8 281.5h0M387.2 219.9h0M390.2 233.5h0M401.2 244.2h0M396.7 248.9h0M390.3 237.3h0M398.6 282.8h0M401.1 272.6h0M399.4 257.4h0M399.7 252.8h0M387.1 292.5h0M402.5 260.7h0M396.0 232.3h0M391.2 283.3h0M402.6 257.6h0M389.9 294.2h0M387.7 219.5h0M397.6 251.0h0M393.7 248.2h0M399.6 254.6h0M388.8 225.1h0M398.8 235.7h0M393.9 248.6h0M402.2 247.3h0M402.5 256.3h0M395.5 231.1h0M397.4 267.0h0M397.6 281.8h0M400.6 266.0h0M394.8 240.1h0M402.3 262.1h0M400.5 252.0h0M395.3 274.5h0M398.7 245.0h0M401.8 251.0h0M389.8 288.8h0M396.4 267.3h0M402.1 267.9h0M397.7 239.2h0M398.8 234.2h0M399.9 262.2h0M396.1 290.6h0M393.1 288.0h0M396.2 235.2h0M400.6 257.5h0M397.4 290.7h0M396.5 290.3h0M400.1 242.8h0M394.4 260.0h0M398.6 258.4h0M394.8 276.1h0M399.2 255.8h0M398.2 281.0h0M394.0 277.7h0M399.1 251.9h0M401.6 262.6h0M389.4 295.1h0M402.1 273.9h0M389.5 292.6h0M400.9 274.9h0M402.1 256.9h0M393.9 294.8h0M396.8 238.5h0M396.1 249.5h0M391.2 229.0h0M399.1 238.2h0M394.3 280.5h0M397.6 263.6h0M398.1 238.5h0M397.1 237.7h0M403.1 259.4h0M393.0 225.1h0M394.5 250.9h0M394.8 228.4h0M399.7 239.5h0M396.8 285.8h0M398.2 252.1h0M388.5 294.5h0M393.5 228.3h0M396.9 252.5h0M395.6 228.6h0M400.3 256.3h0M402.3 268.1h0M399.9 262.8h0M399.1 276.7h0M402.3 257.4h0M388.8 291.3h0M397.0 245.9h0M400.5 279.1h0M397.8 288.8h0M391.1 287.0h0M392.3 285.5h0M396.5 233.7h0M398.6 265.1h0M393.1 287.8h0M391.6 295.4h0M394.4 240.3h0M392.0 290.8h0M400.0 268.2h0M400.9 277.3h0M392.6 297.2h0M396.2 250.7h0M400.5 274.9h0M398.2 272.8h0M389.6 236.7h0M395.5 275.9h0M401.4 256.6h0M400.5 263.6h0M391.5 236.9h0M396.9 272.6h0M398.5 252.7h0M391.5 241.5h0M393.3 294.3h0M387.3 230.2h0M398.8 255.6h0M392.8 233.7h0M390.4 230.9h0M394.4 272.2h0M391.3 234.6h0M402.5 275.1h0M388.1 222.2h0M390.3 295.6h0M400.2 240.8h0M395.3 237.7h0M396.4 271.8h0M401.3 278.0h0M389.8 229.3h0M399.4 264.5h0M396.5 261.1h0M401.5 275.9h0M390.9 225.5h0M397.3 283.7h0M401.1 242.8h0M392.9 233.6h0M392.3 241.2h0M398.0 270.0h0M393.6 229.0h0M401.6 243.7h0M389.5 233.7h0M397.3 248.4h0M394.4 259.3h0M395.3 278.0h0M400.5 281.7h0M396.9 263.0h0M393.0 289.9h0M395.3 232.2h0M389.7 233.0h0M391.8 238.9h0M392.3 283.6h0M401.8 276.5h0M399.5 286.7h0M392.4 239.7h0M396.3 260.5h0M398.2 286.8h0M394.7 294.4h0M394.9 239.3h0M402.5 262.2h0M389.8 224.9h0M397.4 237.5h0M391.0 292.0h0M391.9 230.6h0M396.1 270.3h0M394.0 248.4h0M403.4 257.0h0M396.9 251.8h0M389.4 287.8h0" stroke="#9494ff" stroke-width="2.8" stroke-linecap="round"/>
<path d="M368.8 223.1h0M372.1 299.3h0M379.0 293.9h0M380.8 226.6h0M376.4 297.6h0M382.2 297.8h0M367.8 223.6h0M371.3 220.7h0M378.8 220.4h0M384.9 224.1h0M373.4 224.9h0M366.3 216.8h0M381.6 302.6h0M375.5 298.4h0M368.5 300.8h0M384.2 298.0h0M376.1 307.7h0M375.8 307.1h0M381.8 222.6h0M382.0 219.5h0M380.0 219.5h0M384.7 230.2h0M374.3 222.5h0M375.0 299.9h0M384.8 219.5h0M382.9 305.2h0M366.4 300.4h0M376.2 225.6h0M375.0 295.9h0M379.6 293.3h0M369.0 222.0h0M377.8 224.4h0M382.3 296.7h0M371.3 300.5h0M376.8 220.8h0M378.7 226.5h0M373.8 299.3h0M372.2 220.5h0M368.0 304.8h0M373.5 222.1h0M371.3 303.6h0M382.0 225.8h0M379.4 216.1h0M371.0 297.6h0M371.8 220.9h0M382.3 303.4h0M382.9 294.6h0M379.6 301.1h0M382.3 218.4h0M377.2 220.0h0" stroke="#9494ff" stroke-width="2.4" stroke-linecap="round"/>
<path d="M368.8 255.0h0M394.6 281.6h0M386.1 240.3h0M395.8 286.6h0M379.1 237.1h0M386.2 297.0h0M394.4 277.7h0M367.0 281.0h0M375.3 240.8h0M396.6 281.1h0M366.9 263.7h0M391.5 238.5h0M395.7 269.4h0M383.3 226.9h0M371.1 248.9h0M381.2 245.8h0M375.8 257.1h0M378.4 278.3h0M382.2 257.6h0M378.2 266.9h0M395.2 257.2h0M366.1 236.9h0M370.2 266.4h0M399.0 271.2h0M396.8 251.2h0M374.5 281.6h0M374.7 282.7h0M384.9 263.4h0M379.7 299.6h0M373.7 221.1h0M378.9 227.5h0M381.9 234.1h0M384.3 275.6h0M383.6 267.4h0M380.8 281.1h0M382.2 238.8h0M383.0 261.8h0M380.4 266.3h0M373.0 288.4h0M397.0 260.1h0M375.6 223.7h0M382.2 235.0h0M400.4 253.8h0M395.1 246.7h0M392.9 256.1h0M368.6 223.0h0M383.1 232.0h0M366.0 295.0h0M383.6 279.7h0M381.7 244.6h0M377.9 248.4h0M369.4 220.6h0M378.9 245.0h0M366.6 268.5h0M376.8 233.1h0M389.7 233.9h0M372.9 288.6h0M376.5 250.0h0M384.4 239.3h0M377.4 261.0h0M370.7 262.6h0M389.1 273.3h0M374.6 242.8h0M377.1 283.0h0M388.0 253.2h0M398.0 286.3h0M382.2 227.5h0M373.5 248.3h0M379.2 232.5h0M367.6 267.9h0M384.2 266.2h0M381.4 245.6h0M394.5 241.5h0M375.1 271.2h0M374.5 262.7h0M395.9 238.2h0M366.1 252.5h0M370.2 278.9h0M368.5 220.3h0M378.5 241.7h0M393.6 245.7h0M399.9 268.0h0M368.4 248.0h0M372.8 290.2h0M368.5 280.6h0M376.0 299.9h0M371.0 215.9h0M392.7 226.9h0M371.3 293.4h0M381.1 300.0h0M375.2 297.7h0M387.8 247.3h0M373.3 270.1h0M399.4 276.1h0M370.9 289.6h0M371.9 301.9h0M376.7 227.8h0M394.7 282.8h0M381.2 251.0h0M380.9 277.9h0M375.8 220.5h0M373.2 288.3h0M374.1 279.1h0M377.2 277.7h0M374.0 294.9h0M375.6 268.0h0M375.3 222.1h0M390.4 291.2h0M380.4 278.4h0M368.1 257.6h0" stroke="#fff" stroke-width="1.6" stroke-linecap="round" opacity="0.85"/>
<ellipse cx="382" cy="259.3" rx="6" ry="7.6" fill="#fff"/>
<clipPath id="h6"><ellipse cx="382" cy="259.3" rx="6" ry="7.6"/></clipPath>
<g clip-path="url(#h6)"><path d="M322.6 212.7V309.4M322.6 212.7H425.6M332.9 212.7V309.4M322.6 222.4H425.6M343.2 212.7V309.4M322.6 232.0H425.6M353.5 212.7V309.4M322.6 241.7H425.6M363.8 212.7V309.4M322.6 251.4H425.6M374.1 212.7V309.4M322.6 261.0H425.6M384.4 212.7V309.4M322.6 270.7H425.6M394.7 212.7V309.4M322.6 280.4H425.6M405.0 212.7V309.4M322.6 290.1H425.6M415.3 212.7V309.4M322.6 299.7H425.6M425.6 212.7V309.4M322.6 309.4H425.6" stroke="#f0f0f0" stroke-width="1" fill="none"/></g>
<polygon points="357.5,221.5 360.5,220.3 364,223 367.2,230 369,240 368.5,250 367.5,261.8 368.5,273.6 369,283.6 367.2,293.6 364,300.6 360.5,303.3 357.5,302.1 358.5,298.1 361.5,294.1 363.4,287.6 364.8,278.6 365.7,268.6 365.5,261.8 365.7,255 364.8,245 363.4,236 361.5,229.5 358.5,225.5" fill="#ff2a10"/>
<polygon points="373,228 375.5,232 377,240 378.6,247 378,253 379.6,258 379.5,261.8 379.6,265.6 378,270.6 378.6,276.6 377,283.6 375.5,291.6 373,295.6 370.5,287.6 368.3,279.6 366.4,271.6 366,261.8 366.4,252 368.3,244 370.5,236" fill="#ff30ff"/>
<polygon points="361.3,229.5 363.2,234 364.6,243 365.6,253 365.5,261.8 365.6,270.6 364.6,280.6 363.2,289.6 361.3,294.1 358.6,288.1 356,281.6 353.6,273.6 352,267.6 351.2,261.8 352,256 353.6,250 356,242 358.6,235.5" fill="#00f4ff"/>
<path d="M352.3 240.2h0M355.2 283.5h0M355.5 295.2h0M351.1 279.4h0M355.3 232.1h0M355.6 281.5h0M355.2 302.2h0M353.3 292.0h0M355.1 282.7h0M351.9 230.6h0M355.7 287.8h0M355.8 290.1h0M353.9 287.5h0M352.1 284.5h0M354.3 298.6h0M352.7 287.1h0M351.8 296.2h0M353.2 284.5h0M351.0 240.8h0M355.7 291.3h0M351.2 244.3h0M354.7 233.6h0M355.2 241.7h0M352.8 248.0h0M353.2 231.7h0M354.9 281.8h0M352.1 277.4h0M352.9 297.2h0M354.0 294.1h0M356.1 239.9h0M355.0 238.8h0M352.3 232.6h0M352.1 238.6h0M354.4 237.9h0M354.4 239.3h0M352.1 284.4h0M352.0 282.3h0M353.9 222.0h0M352.8 233.0h0M354.0 226.8h0M355.7 242.3h0M354.4 287.6h0M351.6 238.2h0M351.3 277.9h0M352.7 295.0h0M353.4 301.5h0M355.2 231.2h0M354.4 280.9h0M354.2 228.4h0M355.6 289.5h0M356.1 286.4h0M351.3 235.1h0M354.3 233.2h0M354.4 235.1h0M353.1 240.1h0M351.1 237.6h0M354.8 293.8h0M353.0 242.7h0M355.2 296.8h0M355.3 234.9h0M354.8 278.4h0M354.6 242.2h0M352.4 222.1h0M354.2 221.2h0M352.3 280.8h0M353.0 280.9h0M355.4 297.1h0M351.6 230.8h0M353.4 278.7h0M352.6 246.9h0" stroke="#00f000" stroke-width="3.0" stroke-linecap="round"/>
<path d="M352.1 277.7h0M352.3 276.7h0M351.2 244.6h0M352.0 276.1h0M353.0 252.0h0M352.0 269.6h0" stroke="#00f000" stroke-width="2.4" stroke-linecap="round"/>
<path d="M356.0 233.2h0M355.5 288.6h0M358.7 218.7h0M361.2 217.9h0M354.2 283.7h0M369.5 226.8h0M353.7 228.0h0M370.3 297.2h0M361.8 217.1h0M368.5 223.4h0M363.5 301.5h0M370.6 230.1h0M357.2 301.4h0M369.2 285.5h0M356.6 292.3h0M352.7 285.7h0M368.7 222.1h0M358.2 224.3h0M362.8 218.0h0M357.8 299.7h0M367.0 302.2h0M366.9 222.6h0M355.9 287.2h0M369.3 284.7h0M366.4 222.5h0M354.6 227.8h0M367.8 297.4h0M361.0 303.4h0M365.1 223.0h0M356.0 284.2h0M370.8 297.3h0M371.0 231.1h0M358.1 299.6h0M356.5 291.7h0M369.6 294.2h0M365.4 302.4h0M357.1 225.8h0M359.3 305.2h0M355.4 293.6h0M356.7 222.0h0M367.5 226.6h0M367.8 300.0h0M354.4 234.7h0M364.7 304.1h0M367.4 303.2h0M353.5 288.5h0M353.2 234.9h0M354.6 289.7h0M368.9 294.8h0M354.2 291.0h0M362.9 218.3h0M369.9 224.8h0M368.9 227.3h0M357.6 298.6h0M356.0 297.3h0M355.2 290.2h0M355.6 299.3h0M355.4 299.4h0M357.1 229.3h0M363.2 306.4h0M365.7 299.9h0M356.5 228.4h0M355.9 230.4h0M359.6 220.3h0M369.7 299.9h0M354.0 233.1h0M371.0 227.8h0M367.6 226.3h0M362.7 306.3h0M356.2 225.5h0M358.5 225.7h0M353.1 232.3h0M354.3 238.5h0M361.8 218.0h0M354.0 229.5h0M354.5 295.5h0M354.6 284.9h0M354.3 296.5h0M357.6 224.5h0M359.5 303.5h0" stroke="#00f000" stroke-width="2.9" stroke-linecap="round"/>
<path d="M486.2 183.8V352.6M482.8 183.8H489.6M482.8 352.6H489.4" stroke="#959595" stroke-width="1.3" fill="none"/>
<path d="M495.8 361.5H671.5M495.8 358.5V365M671.5 358.5V365" stroke="#a8a8a8" stroke-width="1.3" fill="none"/>
<ellipse cx="583.5" cy="268" rx="86.6" ry="83.3" fill="none" stroke="#666" stroke-width="1"/>
<ellipse cx="583" cy="222.6" rx="8.6" ry="8.45" fill="none" stroke="#ff2a10" stroke-width="2.35"/>
<ellipse cx="610.5" cy="222.6" rx="8.6" ry="8.45" fill="none" stroke="#c8bc00" stroke-width="2.35"/>
<ellipse cx="630.1" cy="222.6" rx="8.6" ry="8.45" fill="none" stroke="#ff30ff" stroke-width="2.35"/>
<ellipse cx="583" cy="241.7" rx="8.6" ry="8.45" fill="none" stroke="#00f000" stroke-width="2.35"/>
<ellipse cx="582.8" cy="268.2" rx="8.6" ry="8.45" fill="none" stroke="#2424ff" stroke-width="2.35"/>
<path d="M580 268.2h5.6M582.8 265.4v5.6" stroke="#666" stroke-width="0.8"/>
<path d="M665.3 262.4 A6.5 6.8 0 1 0 665.3 273.6" stroke="#00f4ff" stroke-width="2.2" fill="none"/>
<text x="521.2" y="346.7" font-family='"DejaVu Sans", sans-serif' font-size="7.8" font-weight="bold" text-anchor="start" font-stretch="condensed" textLength="99" lengthAdjust="spacingAndGlyphs" fill="#1a1a1a">Scale: 120.0000 Millimeters</text>
<text x="478" y="315.7" font-family='"DejaVu Sans", sans-serif' font-size="7.8" font-weight="bold" text-anchor="start" font-stretch="condensed" textLength="95.7" lengthAdjust="spacingAndGlyphs" fill="#1a1a1a" transform="rotate(-90 478 315.7)">Scale: 120.0000 Millimeters</text>
<path d="M600 8.5H685.3V151.3H604" stroke="#555" stroke-width="1" fill="none"/>
<path d="M604 8.5V151.5" stroke="#777" stroke-width="2" fill="none"/>
<rect x="609" y="19.1" width="8.4" height="7.8" fill="#fff" stroke="#222" stroke-width="1.8"/>
<path d="M610.4 22.2 L612.9 25.5 L617.2 20.1" stroke="#118a11" stroke-width="2.7" fill="none"/>
<path d="M624.4 23.0H631.2M627.8 19.7V26.3" stroke="#2424ff" stroke-width="2.2"/>
<text x="639.3" y="27.3" font-family='"DejaVu Sans", sans-serif' font-size="12.2" font-weight="bold" text-anchor="start" font-stretch="condensed" fill="#161616" letter-spacing="0.55">0.355</text>
<rect x="609" y="38.4" width="8.4" height="7.8" fill="#fff" stroke="#222" stroke-width="1.8"/>
<path d="M610.4 41.5 L612.9 44.8 L617.2 39.4" stroke="#118a11" stroke-width="2.7" fill="none"/>
<rect x="624.6" y="39.0" width="6.4" height="6.4" fill="#00f000"/>
<text x="639.3" y="46.55" font-family='"DejaVu Sans", sans-serif' font-size="12.2" font-weight="bold" text-anchor="start" font-stretch="condensed" fill="#161616" letter-spacing="0.55">0.4</text>
<rect x="609" y="57.6" width="8.4" height="7.8" fill="#fff" stroke="#222" stroke-width="1.8"/>
<path d="M610.4 60.7 L612.9 64.0 L617.2 58.6" stroke="#118a11" stroke-width="2.7" fill="none"/>
<path d="M624.2 63.8H631.4L627.8 59.0Z" fill="#ff2a10"/>
<text x="639.3" y="65.8" font-family='"DejaVu Sans", sans-serif' font-size="12.2" font-weight="bold" text-anchor="start" font-stretch="condensed" fill="#161616" letter-spacing="0.55">0.5</text>
<rect x="609" y="76.9" width="8.4" height="7.8" fill="#fff" stroke="#222" stroke-width="1.8"/>
<path d="M610.4 80.0 L612.9 83.2 L617.2 77.9" stroke="#118a11" stroke-width="2.7" fill="none"/>
<path d="M624.4 80.8H631.2M627.8 77.5V84.0" stroke="#c8bc00" stroke-width="2.2"/>
<text x="639.3" y="85.05" font-family='"DejaVu Sans", sans-serif' font-size="12.2" font-weight="bold" text-anchor="start" font-stretch="condensed" fill="#161616" letter-spacing="0.55">0.625</text>
<rect x="609" y="96.1" width="8.4" height="7.8" fill="#fff" stroke="#222" stroke-width="1.8"/>
<path d="M610.4 99.2 L612.9 102.5 L617.2 97.1" stroke="#118a11" stroke-width="2.7" fill="none"/>
<rect x="624.6" y="96.8" width="6.4" height="6.4" fill="#ff30ff"/>
<text x="639.3" y="104.3" font-family='"DejaVu Sans", sans-serif' font-size="12.2" font-weight="bold" text-anchor="start" font-stretch="condensed" fill="#161616" letter-spacing="0.55">0.75</text>
<rect x="609" y="115.4" width="8.4" height="7.8" fill="#fff" stroke="#222" stroke-width="1.8"/>
<path d="M610.4 118.5 L612.9 121.8 L617.2 116.4" stroke="#118a11" stroke-width="2.7" fill="none"/>
<path d="M624.2 121.5H631.4L627.8 116.8Z" fill="#00f4ff"/>
<text x="639.3" y="123.55" font-family='"DejaVu Sans", sans-serif' font-size="12.2" font-weight="bold" text-anchor="start" font-stretch="condensed" fill="#161616" letter-spacing="0.55">0.9</text>
<rect x="609" y="134.6" width="8.4" height="7.8" fill="#fff" stroke="#222" stroke-width="1.8"/>
<path d="M610.4 137.7 L612.9 141.0 L617.2 135.6" stroke="#118a11" stroke-width="2.7" fill="none"/>
<path d="M624.4 138.5H631.2M627.8 135.2V141.8" stroke="#9494ff" stroke-width="2.2"/>
<text x="639.3" y="142.8" font-family='"DejaVu Sans", sans-serif' font-size="12.2" font-weight="bold" text-anchor="start" font-stretch="condensed" fill="#161616" letter-spacing="0.55">0.35</text>
<text x="12.5" y="330.6" font-family='"DejaVu Sans", sans-serif' font-size="10" font-weight="bold" text-anchor="start" font-stretch="condensed" fill="#161616">Units are µm.</text>
<text x="12.5" y="341" font-family='"DejaVu Sans", sans-serif' font-size="10" font-weight="bold" text-anchor="start" font-stretch="condensed" fill="#161616">Field</text>
<text x="55.3" y="341" font-family='"DejaVu Sans", sans-serif' font-size="10" font-weight="bold" text-anchor="start" font-stretch="condensed" fill="#161616">:</text>
<text x="88" y="341" font-family='"DejaVu Sans", sans-serif' font-size="10" font-weight="bold" text-anchor="end" font-stretch="condensed" fill="#161616">1</text>
<text x="119.4" y="341" font-family='"DejaVu Sans", sans-serif' font-size="10" font-weight="bold" text-anchor="end" font-stretch="condensed" fill="#161616">2</text>
<text x="150" y="341" font-family='"DejaVu Sans", sans-serif' font-size="10" font-weight="bold" text-anchor="end" font-stretch="condensed" fill="#161616">3</text>
<text x="180.5" y="341" font-family='"DejaVu Sans", sans-serif' font-size="10" font-weight="bold" text-anchor="end" font-stretch="condensed" fill="#161616">4</text>
<text x="211.4" y="341" font-family='"DejaVu Sans", sans-serif' font-size="10" font-weight="bold" text-anchor="end" font-stretch="condensed" fill="#161616">5</text>
<text x="241.9" y="341" font-family='"DejaVu Sans", sans-serif' font-size="10" font-weight="bold" text-anchor="end" font-stretch="condensed" fill="#161616">6</text>
<text x="12.5" y="351.4" font-family='"DejaVu Sans", sans-serif' font-size="10" font-weight="bold" text-anchor="start" font-stretch="condensed" fill="#161616">RMS radius :</text>
<text x="117.1" y="351.4" font-family='"DejaVu Sans", sans-serif' font-size="10" font-weight="bold" text-anchor="end" font-stretch="condensed" fill="#161616">8.984</text>
<text x="157.7" y="351.4" font-family='"DejaVu Sans", sans-serif' font-size="10" font-weight="bold" text-anchor="end" font-stretch="condensed" fill="#161616">5.758</text>
<text x="197.6" y="351.4" font-family='"DejaVu Sans", sans-serif' font-size="10" font-weight="bold" text-anchor="end" font-stretch="condensed" fill="#161616">4.799</text>
<text x="238.2" y="351.4" font-family='"DejaVu Sans", sans-serif' font-size="10" font-weight="bold" text-anchor="end" font-stretch="condensed" fill="#161616">5.514</text>
<text x="278.6" y="351.4" font-family='"DejaVu Sans", sans-serif' font-size="10" font-weight="bold" text-anchor="end" font-stretch="condensed" fill="#161616">8.415</text>
<text x="322.3" y="351.4" font-family='"DejaVu Sans", sans-serif' font-size="10" font-weight="bold" text-anchor="end" font-stretch="condensed" fill="#161616">11.019</text>
<text x="12.5" y="361.9" font-family='"DejaVu Sans", sans-serif' font-size="10" font-weight="bold" text-anchor="start" font-stretch="condensed" fill="#161616">GEO radius :</text>
<text x="117.8" y="361.9" font-family='"DejaVu Sans", sans-serif' font-size="10" font-weight="bold" text-anchor="end" font-stretch="condensed" fill="#161616">12.456</text>
<text x="161.3" y="361.9" font-family='"DejaVu Sans", sans-serif' font-size="10" font-weight="bold" text-anchor="end" font-stretch="condensed" fill="#161616">10.235</text>
<text x="205.7" y="361.9" font-family='"DejaVu Sans", sans-serif' font-size="10" font-weight="bold" text-anchor="end" font-stretch="condensed" fill="#161616">16.824</text>
<text x="249.5" y="361.9" font-family='"DejaVu Sans", sans-serif' font-size="10" font-weight="bold" text-anchor="end" font-stretch="condensed" fill="#161616">16.417</text>
<text x="293.5" y="361.9" font-family='"DejaVu Sans", sans-serif' font-size="10" font-weight="bold" text-anchor="end" font-stretch="condensed" fill="#161616">19.410</text>
<text x="337.5" y="361.9" font-family='"DejaVu Sans", sans-serif' font-size="10" font-weight="bold" text-anchor="end" font-stretch="condensed" fill="#161616">26.633</text>
<text x="12.5" y="372.5" font-family='"DejaVu Sans", sans-serif' font-size="10" font-weight="bold" text-anchor="start" font-stretch="condensed" fill="#161616">Scale bar</text>
<text x="65.2" y="372.5" font-family='"DejaVu Sans", sans-serif' font-size="10" font-weight="bold" text-anchor="start" font-stretch="condensed" fill="#161616">: 54</text>
<text x="99.3" y="372.5" font-family='"DejaVu Sans", sans-serif' font-size="10" font-weight="bold" text-anchor="start" font-stretch="condensed" fill="#161616">Reference</text>
<text x="157.3" y="372.5" font-family='"DejaVu Sans", sans-serif' font-size="10" font-weight="bold" text-anchor="start" font-stretch="condensed" fill="#161616">: Centroid</text>
<path d="M0 0H692.5V382H0Z M2.5 2.5V379H690V2.5Z" fill="#000" fill-rule="evenodd"/>
</svg>
</body></html>
